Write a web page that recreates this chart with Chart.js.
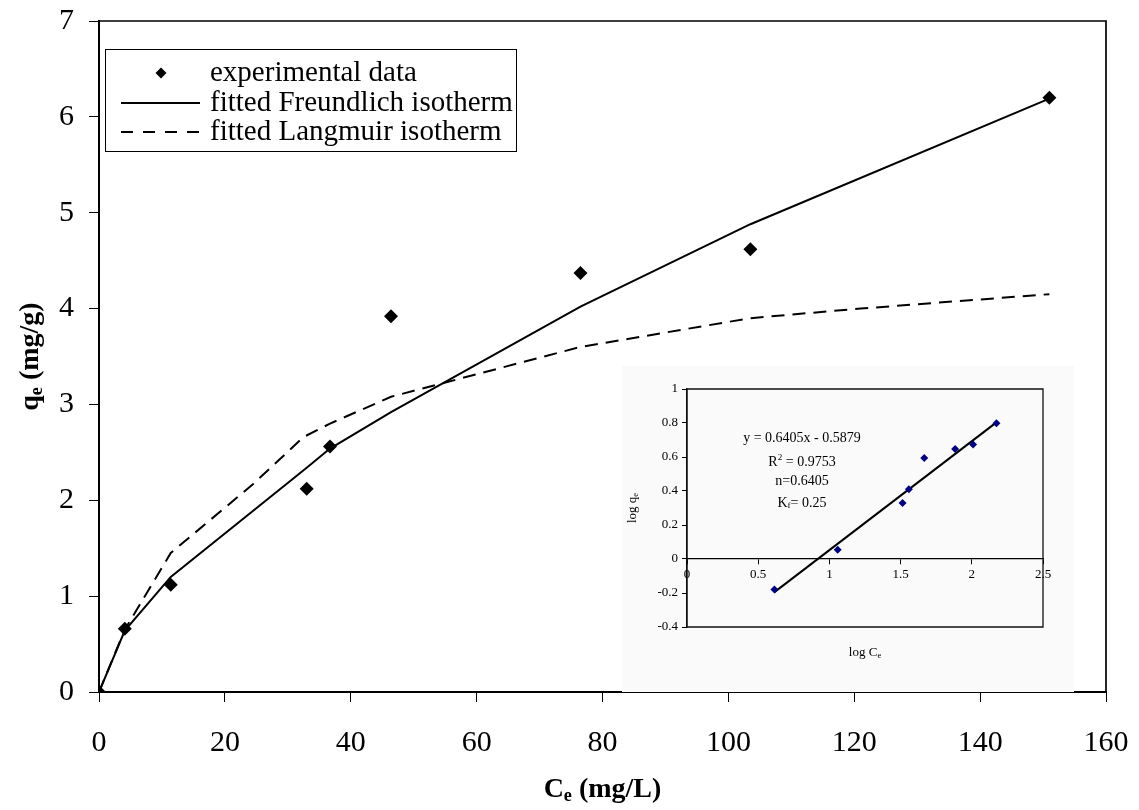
<!DOCTYPE html>
<html>
<head>
<meta charset="utf-8">
<script src="https://cdn.jsdelivr.net/npm/chart.js@4/dist/chart.umd.min.js"></script>
<style>
  html, body { margin: 0; padding: 0; background: #fff; }
  #wrap { position: relative; width: 1139px; height: 810px; }
  #main { position: absolute; left: 0; top: 0; }
  #inset { position: absolute; left: 622px; top: 366px; }
</style>
</head>
<body>
<div id="wrap">
  <canvas id="main" width="1139" height="810"></canvas>
  <canvas id="inset" width="452" height="326"></canvas>
</div>
<script>
// experimental equilibrium data
const ce = [0, 4.1, 11.4, 33.0, 36.7, 46.4, 76.5, 103.5, 151.0];
const qe = [0, 0.66, 1.12, 2.12, 2.56, 3.92, 4.37, 4.62, 6.20];

// fitted Freundlich isotherm
const freundCe = [0, 4.1, 11.4, 33.0, 36.7, 46.4, 76.5, 103.5, 151.0];
const freundQe = [0, 0.64, 1.20, 2.34, 2.54, 2.92, 4.02, 4.88, 6.19];

// fitted Langmuir isotherm
const langCe = [0, 4.1, 11.4, 24.5, 32.5, 36.7, 46.4, 76.5, 103.5, 121.0, 151.0];
const langQe = [0, 0.65, 1.45, 2.17, 2.66, 2.80, 3.08, 3.60, 3.90, 4.00, 4.15];

const xTicks = [0, 20, 40, 60, 80, 100, 120, 140, 160];
const yTicks = [0, 1, 2, 3, 4, 5, 6, 7];

// linearised Freundlich plot (log qe vs log Ce)
const logCe = [0.614, 1.058, 1.514, 1.558, 1.666, 1.883, 2.009, 2.173];
const logQe = [-0.18, 0.055, 0.33, 0.41, 0.594, 0.647, 0.673, 0.798];
const slope = 0.6405;
const intercept = -0.5879;
const trendX = [0.614, 2.173];

const insetXTicks = [0, 0.5, 1, 1.5, 2, 2.5];
const insetYTicks = [-0.4, -0.2, 0, 0.2, 0.4, 0.6, 0.8, 1];

Chart.defaults.color = '#000';
Chart.defaults.font.family = "'Liberation Serif', 'Times New Roman', serif";

const SERIF = "'Liberation Serif', 'Times New Roman', serif";
const pairs = (xs, ys) => xs.map((x, i) => ({ x: x, y: ys[i] }));

// keep tick-label overhang from pushing the plot area around
const noOverhang = s => { s.paddingTop = 0; s.paddingBottom = 0; s.paddingLeft = 0; s.paddingRight = 0; };

// text with sub/superscript pieces: parts = [[text, 'sub'|'sup'|'']]
function richWidth(ctx, parts, size, weight) {
  let w = 0;
  for (const [t, k] of parts) {
    ctx.font = weight + ' ' + (k ? size * 0.65 : size) + 'px ' + SERIF;
    w += ctx.measureText(t).width;
  }
  return w;
}
function drawRich(ctx, parts, x, y, size, weight) {
  let cx = x - richWidth(ctx, parts, size, weight) / 2;
  ctx.textAlign = 'left';
  ctx.textBaseline = 'middle';
  for (const [t, k] of parts) {
    const s = k ? size * 0.65 : size;
    ctx.font = weight + ' ' + s + 'px ' + SERIF;
    const dy = k === 'sub' ? size * 0.22 : (k === 'sup' ? -size * 0.3 : 0);
    ctx.fillText(t, cx, y + dy);
    cx += ctx.measureText(t).width;
  }
}

// frame around the plot area (top/right only, or full box)
const frame = {
  id: 'frame',
  beforeDatasetsDraw(chart, args, opts) {
    const { ctx, chartArea: a } = chart;
    ctx.save();
    ctx.strokeStyle = opts.color || '#000';
    ctx.lineWidth = opts.width || 1.5;
    ctx.beginPath();
    if (opts.full) {
      ctx.rect(a.left, a.top, a.right - a.left, a.bottom - a.top);
    } else {
      ctx.moveTo(a.left, a.top);
      ctx.lineTo(a.right, a.top);
      ctx.lineTo(a.right, a.bottom);
    }
    ctx.stroke();
    ctx.restore();
  }
};

// axis titles and legend box of the main chart
const mainDecor = {
  id: 'mainDecor',
  afterDraw(chart) {
    const ctx = chart.ctx;
    const a = chart.chartArea;
    ctx.save();
    ctx.fillStyle = '#000';
    drawRich(ctx, [['C', ''], ['e', 'sub'], [' (mg/L)', '']], (a.left + a.right) / 2, 790, 28, 'bold');
    ctx.save();
    ctx.translate(31, (a.top + a.bottom) / 2);
    ctx.rotate(-Math.PI / 2);
    drawRich(ctx, [['q', ''], ['e', 'sub'], [' (mg/g)', '']], 0, 0, 28, 'bold');
    ctx.restore();

    // legend
    const ds = chart.data.datasets;
    ctx.fillStyle = '#fff';
    ctx.fillRect(106, 49, 411, 102);
    ctx.strokeStyle = '#000';
    ctx.lineWidth = 1;
    ctx.strokeRect(105.5, 49.5, 411, 102);
    const rows = [73, 103, 132];
    ds.forEach((d, i) => {
      const y = rows[i];
      ctx.strokeStyle = '#000';
      ctx.fillStyle = '#000';
      if (d.showLine) {
        ctx.lineWidth = 2;
        ctx.setLineDash(d.borderDash ? [12, 10] : []);
        ctx.beginPath();
        ctx.moveTo(121, y);
        ctx.lineTo(200, y);
        ctx.stroke();
        ctx.setLineDash([]);
      } else {
        ctx.beginPath();
        ctx.moveTo(161, y - 5.5);
        ctx.lineTo(166.5, y);
        ctx.lineTo(161, y + 5.5);
        ctx.lineTo(155.5, y);
        ctx.closePath();
        ctx.fill();
      }
      ctx.font = '29px ' + SERIF;
      ctx.textAlign = 'left';
      ctx.textBaseline = 'middle';
      ctx.fillText(d.label, 210, y);
    });
    ctx.restore();
  }
};

new Chart(document.getElementById('main'), {
  type: 'scatter',
  data: {
    datasets: [
      {
        label: 'experimental data',
        data: pairs(ce, qe),
        pointStyle: 'rectRot',
        pointRadius: 7,
        backgroundColor: '#000',
        borderColor: '#000',
        borderWidth: 0,
        showLine: false
      },
      {
        label: 'fitted Freundlich isotherm',
        data: pairs(freundCe, freundQe),
        showLine: true,
        borderColor: '#000',
        borderWidth: 2,
        pointRadius: 0,
        tension: 0
      },
      {
        label: 'fitted Langmuir isotherm',
        data: pairs(langCe, langQe),
        showLine: true,
        borderColor: '#000',
        borderWidth: 2,
        borderDash: [13, 8],
        pointRadius: 0,
        tension: 0
      }
    ]
  },
  options: {
    responsive: false,
    animation: false,
    events: [],
    layout: { padding: { top: 21, right: 33, left: 0, bottom: 0 } },
    plugins: {
      legend: { display: false },
      tooltip: { enabled: false },
      frame: { width: 1.7 }
    },
    scales: {
      x: {
        type: 'linear',
        min: 0,
        max: 160,
        afterBuildTicks: s => { s.ticks = xTicks.map(v => ({ value: v })); },
        afterFit: s => { s.height = 118; noOverhang(s); },
        grid: { drawOnChartArea: false, drawTicks: true, tickLength: 10, color: '#000', lineWidth: 1 },
        border: { display: true, color: '#000', width: 2 },
        ticks: { font: { size: 30 }, padding: 23, maxRotation: 0 }
      },
      y: {
        type: 'linear',
        min: 0,
        max: 7,
        afterBuildTicks: s => { s.ticks = yTicks.map(v => ({ value: v })); },
        afterFit: s => { s.width = 99; noOverhang(s); },
        grid: { drawOnChartArea: false, drawTicks: true, tickLength: 10, color: '#000', lineWidth: 1 },
        border: { display: true, color: '#000', width: 2 },
        ticks: { font: { size: 30 }, padding: 15 }
      }
    }
  },
  plugins: [frame, mainDecor]
});

// inset: log-log linear fit
const insetDecor = {
  id: 'insetDecor',
  beforeDraw(chart) {
    const ctx = chart.ctx;
    ctx.save();
    ctx.fillStyle = '#fafafa';
    ctx.fillRect(0, 0, chart.width, chart.height);
    ctx.restore();
  },
  afterDraw(chart) {
    const ctx = chart.ctx;
    const a = chart.chartArea;
    ctx.save();
    ctx.fillStyle = '#000';
    drawRich(ctx, [['log C', ''], ['e', 'sub']], (a.left + a.right) / 2, 287, 13, 'normal');
    ctx.save();
    ctx.translate(11, (a.top + a.bottom) / 2);
    ctx.rotate(-Math.PI / 2);
    drawRich(ctx, [['log q', ''], ['e', 'sub']], 0, 0, 13, 'normal');
    ctx.restore();
    const tx = 180;
    drawRich(ctx, [['y = ' + slope + 'x - ' + Math.abs(intercept), '']], tx, 72, 14, 'normal');
    drawRich(ctx, [['R', ''], ['2', 'sup'], [' = 0.9753', '']], tx, 96, 14, 'normal');
    drawRich(ctx, [['n=0.6405', '']], tx, 115, 14, 'normal');
    drawRich(ctx, [['K', ''], ['f', 'sub'], ['= 0.25', '']], tx, 137, 14, 'normal');
    ctx.restore();
  }
};

new Chart(document.getElementById('inset'), {
  type: 'scatter',
  data: {
    datasets: [
      {
        data: pairs(logCe, logQe),
        pointStyle: 'rectRot',
        pointRadius: 4,
        backgroundColor: '#00007f',
        borderWidth: 0
      },
      {
        data: trendX.map(x => ({ x: x, y: slope * x + intercept })),
        showLine: true,
        borderColor: '#000',
        borderWidth: 2,
        pointRadius: 0
      }
    ]
  },
  options: {
    responsive: false,
    animation: false,
    events: [],
    layout: { padding: { top: 23, right: 31, left: 0, bottom: 65 } },
    plugins: {
      legend: { display: false },
      tooltip: { enabled: false },
      frame: { full: true, width: 1.3, color: '#111' }
    },
    scales: {
      x: {
        type: 'linear',
        position: { y: 0 },
        min: 0,
        max: 2.5,
        afterBuildTicks: s => { s.ticks = insetXTicks.map(v => ({ value: v })); },
        afterFit: noOverhang,
        grid: { drawOnChartArea: false, drawTicks: true, tickLength: 5, color: '#000' },
        border: { display: true, color: '#000', width: 1.3 },
        ticks: { font: { size: 13 }, padding: 3, maxRotation: 0, callback: v => String(v) }
      },
      y: {
        type: 'linear',
        min: -0.4,
        max: 1,
        afterBuildTicks: s => { s.ticks = insetYTicks.map(v => ({ value: v })); },
        afterFit: s => { s.width = 65; noOverhang(s); },
        grid: { drawOnChartArea: false, drawTicks: true, tickLength: 5, color: '#000' },
        border: { display: true, color: '#000', width: 1.3 },
        ticks: { font: { size: 13 }, padding: 4, callback: v => String(v) }
      }
    }
  },
  plugins: [frame, insetDecor]
});
</script>
</body>
</html>
